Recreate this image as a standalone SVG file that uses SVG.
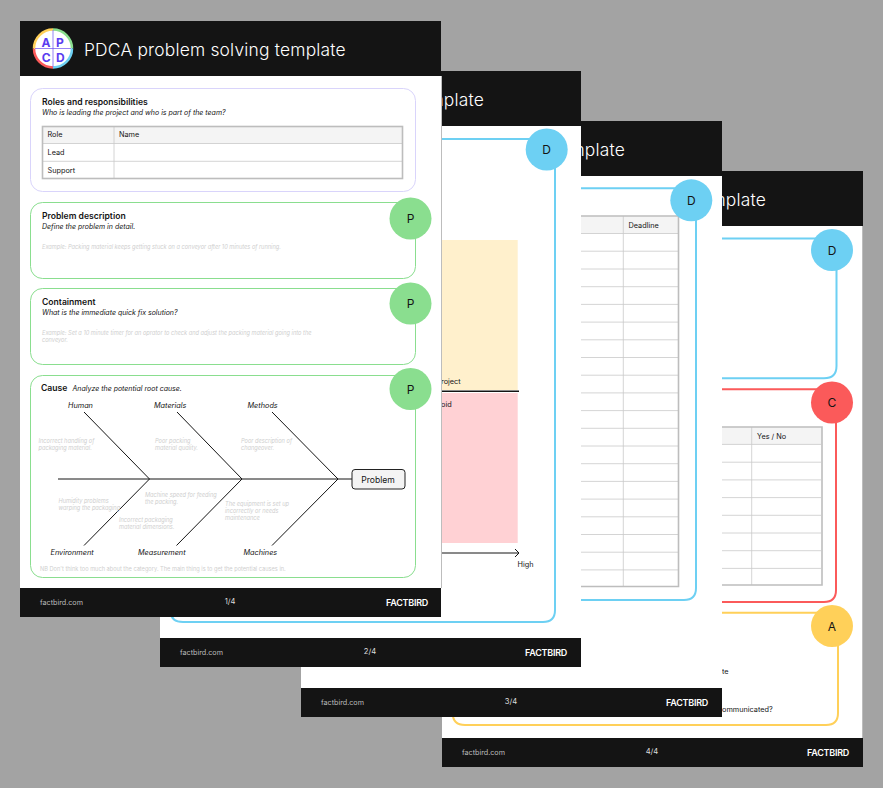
<svg xmlns="http://www.w3.org/2000/svg" width="883" height="788" viewBox="0 0 883 788">
<style>
text{font-family:Inter,"Liberation Sans",sans-serif;fill:#141414}
.page{fill:#fff}
.edge{stroke:#bdbdbd;stroke-width:1;fill:none}
.bar{fill:#141414}
.title{font-size:17.4px;font-weight:300;fill:#fff;letter-spacing:.2px}
.end{text-anchor:end}
.url{font-size:7.2px;fill:#bdbdbd}
.num{font-size:7.6px;fill:#ddd;text-anchor:middle}
.brand{font-size:9px;font-weight:600;fill:#fff;letter-spacing:-.25px}
.frame{fill:none;stroke-width:2}
.blue{stroke:#6dd0f3}.red{stroke:#fb5a5a}.yellow{stroke:#ffd059}.green{stroke:#8ade8f;stroke-width:1}.lilac{stroke:#d9d4fb;stroke-width:1}
.cd{fill:#6dd0f3}.cc{fill:#fb5a5a}.ca{fill:#ffd059}.cp{fill:#8ade8f}
.badge{font-size:12px;text-anchor:middle}
.h{font-size:8.6px;font-weight:600}
.sub{font-size:7px;font-style:italic}
.cell{font-size:7.3px}
.ex{font-size:5.65px;font-style:italic;fill:#cfcfcf}
.cat{font-size:7.3px;font-style:italic}
.bone{stroke:#141414;stroke-width:1;fill:none}
.grid{stroke:#c9c9c9;stroke-width:.8;fill:none}
.out{stroke:#bdbdbd;stroke-width:1.6;fill:none}
.head{fill:#f4f4f4}
.logo-l{font-size:12px;font-weight:700;text-anchor:middle;fill:#5a3df0}
</style>
<rect width="883" height="788" fill="#a3a3a3"/>

<g id="page-4">
<rect class="page" x="442" y="171" width="421" height="596"/>
<path class="edge" d="M862.5 171V767"/>
<rect class="bar" x="442" y="171" width="421" height="55"/>
<text class="title end" x="766" y="205.500">mplate</text>
<g id="p4-connectors">
<path class="frame blue" d="M700 238.500H828M836.500 250V366Q836.500 378.300 824 378.300H700"/>
<path class="frame red" d="M700 389.300H828M836 402V590Q836 602 824 602H700"/>
<path class="frame yellow" d="M700 612.700H828M838 626V713Q838 725 826 725H465Q452.700 725 452.700 713V700"/>
</g>
<g id="p4-table">
<rect class="head" x="722" y="427" width="100" height="17.500"/>
<path class="grid" d="M751.700 427V585M722 444.400H821M722 462.200H821M722 479.900H821M722 497.600H821M722 515.300H821M722 533H821M722 550.700H821M722 568.400H821"/>
<path class="out" d="M722 427H822V585H722"/>
<text class="cell" x="757" y="438.500">Yes / No</text>
</g>
<text class="cell" x="722" y="674">te</text>
<text class="cell" x="722" y="712">ommunicated?</text>
<g id="p4-d"><circle class="cd" cx="832" cy="250" r="21"/><text class="badge" x="832" y="254.500">D</text></g>
<g id="p4-c"><circle class="cc" cx="832" cy="402.500" r="21"/><text class="badge" x="832" y="407">C</text></g>
<g id="p4-a"><circle class="ca" cx="832" cy="626" r="21"/><text class="badge" x="832" y="630.500">A</text></g>
<rect class="bar" x="442" y="738" width="421" height="29"/>
<text class="url" x="462" y="755">factbird.com</text>
<text class="num" x="652" y="754">4/4</text>
<text class="brand" x="807" y="756">FACTBIRD</text>
</g>

<g id="page-3">
<rect class="page" x="301" y="121" width="421" height="596"/>
<rect class="bar" x="301" y="121" width="421" height="55"/>
<text class="title end" x="625" y="155.500">mplate</text>
<g id="p3-connectors">
<path class="frame blue" d="M570 188.300H688M696 200V588Q696 600 684 600H570"/>
</g>
<g id="p3-table">
<rect class="head" x="581" y="216" width="97" height="17.500"/>
<path class="grid" d="M623.300 216V586M581 233.500H678M581 251.200H678M581 269H678M581 286.700H678M581 304.400H678M581 322.100H678M581 339.800H678M581 357.500H678M581 375.200H678M581 392.900H678M581 410.600H678M581 428.300H678M581 446H678M581 463.700H678M581 481.400H678M581 499.100H678M581 516.800H678M581 534.500H678M581 552.200H678M581 569.900H678"/>
<path class="out" d="M581 216H678.500V586.500H581"/>
<text class="cell" x="628.500" y="227.500">Deadline</text>
</g>
<g id="p3-d"><circle class="cd" cx="691.300" cy="200.300" r="21"/><text class="badge" x="691.300" y="204.800">D</text></g>
<rect class="bar" x="301" y="688" width="421" height="29"/>
<text class="url" x="321" y="705">factbird.com</text>
<text class="num" x="511" y="704">3/4</text>
<text class="brand" x="666" y="706">FACTBIRD</text>
</g>

<g id="page-2">
<rect class="page" x="160" y="71" width="421" height="596"/>
<rect class="bar" x="160" y="71" width="421" height="55"/>
<text class="title end" x="484" y="105.500">mplate</text>
<g id="p2-connectors">
<path class="frame blue" d="M430 139H540M555 160V610Q555 622 543 622H183Q171 622 171 612"/>
</g>
<g id="p2-matrix">
<rect x="441" y="240" width="76.700" height="150" fill="#fff0cc"/>
<rect x="441" y="393" width="76.700" height="150" fill="#ffd1d4"/>
<path d="M441 391.300H519" stroke="#141414" stroke-width="1.600" fill="none"/>
<path d="M441 553H519M515 549L519 553L515 557" stroke="#141414" stroke-width="1" fill="none"/>
<text class="cell" x="441" y="384">roject</text>
<text class="cell" x="441" y="406.500">oid</text>
<text class="cell" x="517.500" y="567">High</text>
</g>
<g id="p2-d"><circle class="cd" cx="546.700" cy="149.500" r="21"/><text class="badge" x="546.700" y="154">D</text></g>
<rect class="bar" x="160" y="638" width="421" height="29"/>
<text class="url" x="180" y="655">factbird.com</text>
<text class="num" x="370" y="654">2/4</text>
<text class="brand" x="525" y="656">FACTBIRD</text>
</g>

<g id="page-1">
<rect class="page" x="20" y="21" width="421" height="596"/>
<path class="edge" d="M441.500 76V588"/>
<rect class="bar" x="20" y="21" width="421" height="55"/>
<g id="logo">
<circle cx="53" cy="48.500" r="19" fill="#fff"/>
<path d="M53 29.500A19 19 0 0 1 72 48.500" fill="none" stroke="#8ade8f" stroke-width="2.500"/>
<path d="M72 48.500A19 19 0 0 1 53 67.500" fill="none" stroke="#6dd0f3" stroke-width="2.500"/>
<path d="M53 67.500A19 19 0 0 1 34 48.500" fill="none" stroke="#fb5a5a" stroke-width="2.500"/>
<path d="M34 48.500A19 19 0 0 1 53 29.500" fill="none" stroke="#ffd059" stroke-width="2.500"/>
<path d="M53 30V67M35 48.500H71" stroke="#6b4df0" stroke-width=".7" fill="none"/>
<text class="logo-l" x="46" y="46.500">A</text>
<text class="logo-l" x="60" y="46.500">P</text>
<text class="logo-l" x="46.300" y="61.500">C</text>
<text class="logo-l" x="60.300" y="61.500">D</text>
</g>
<text class="title" x="84" y="55.500">PDCA problem solving template</text>

<g id="roles">
<rect class="frame lilac" x="30.500" y="88.500" width="385" height="103" rx="12"/>
<text class="h" x="42" y="105">Roles and responsibilities</text>
<text class="sub" x="42" y="115">Who is leading the project and who is part of the team?</text>
<rect class="head" x="42.500" y="126.500" width="360" height="17"/>
<path class="grid" d="M114 126.500V178.500M42.500 143.500H402.500M42.500 161.300H402.500"/>
<rect class="out" x="42.500" y="126.500" width="360" height="52" stroke-width="1"/>
<text class="cell" x="47.500" y="137">Role</text>
<text class="cell" x="119" y="137">Name</text>
<text class="cell" x="47.500" y="155">Lead</text>
<text class="cell" x="47.500" y="172.500">Support</text>
</g>

<g id="problem">
<rect class="frame green" x="30.500" y="202.500" width="385" height="76" rx="12"/>
<text class="h" x="42" y="219">Problem description</text>
<text class="sub" x="42" y="229">Define the problem in detail.</text>
<text class="ex" x="42" y="248.500">Example: Packing material keeps getting stuck on a conveyor after 10 minutes of running.</text>
<circle class="cp" cx="410.500" cy="218.500" r="21"/><text class="badge" x="410.500" y="223">P</text>
</g>

<g id="containment">
<rect class="frame green" x="30.500" y="288.500" width="385" height="76" rx="12"/>
<text class="h" x="42" y="305">Containment</text>
<text class="sub" x="42" y="315">What is the immediate quick fix solution?</text>
<text class="ex" x="42" y="334.500">Example: Set a 10 minute timer for an oprator to check and adjust the packing material going into the</text>
<text class="ex" x="42" y="341.500">conveyor.</text>
<circle class="cp" cx="410.500" cy="303.500" r="21"/><text class="badge" x="410.500" y="308">P</text>
</g>

<g id="cause">
<rect class="frame green" x="30.500" y="375.500" width="385" height="202" rx="12"/>
<text class="h" x="41" y="391">Cause</text>
<text class="sub" x="72.500" y="391">Analyze the potential root cause.</text>
<g id="fishbone">
<path class="bone" d="M58 479H352M84 412L149.500 479L84 545.500M177 412L242 479L176.500 545.500M272 412L338 479L272 545.500"/>
</g>
<text class="cat" x="68" y="408">Human</text>
<text class="cat" x="154" y="408">Materials</text>
<text class="cat" x="247.500" y="408">Methods</text>
<text class="cat" x="50.500" y="554.500">Environment</text>
<text class="cat" x="138" y="554.500">Measurement</text>
<text class="cat" x="243.500" y="554.500">Machines</text>
<text class="ex" x="38.500" y="442.500">Incorrect handling of</text>
<text class="ex" x="38.500" y="449.500">packaging material.</text>
<text class="ex" x="155" y="442.500">Poor packing</text>
<text class="ex" x="155" y="449.500">material quality.</text>
<text class="ex" x="241" y="443">Poor description of</text>
<text class="ex" x="241" y="450">changeover.</text>
<text class="ex" x="58.500" y="502.500">Humidity problems</text>
<text class="ex" x="58.500" y="509.500">warping the packaging</text>
<text class="ex" x="145" y="497">Machine speed for feeding</text>
<text class="ex" x="145" y="504">the packing.</text>
<text class="ex" x="119" y="522">Incorrect packaging</text>
<text class="ex" x="119" y="529">material dimensions.</text>
<text class="ex" x="225" y="506">The equipment is set up</text>
<text class="ex" x="225" y="513">incorrectly or needs</text>
<text class="ex" x="225" y="520">maintenance</text>
<text class="ex" x="40" y="571" style="font-style:normal">NB Don't think too much about the category. The main thing is to get the potential causes in.</text>
<g id="problem-box">
<rect x="352" y="469.500" width="53" height="19.500" rx="3" fill="#f4f4f4" stroke="#222" stroke-width="1"/>
<text x="378" y="482.500" text-anchor="middle" font-size="8.600">Problem</text>
</g>
<circle class="cp" cx="410.500" cy="389" r="21"/><text class="badge" x="410.500" y="393.500">P</text>
</g>

<rect class="bar" x="20" y="588" width="421" height="29"/>
<text class="url" x="40" y="605">factbird.com</text>
<text class="num" x="230" y="604">1/4</text>
<text class="brand" x="386" y="606">FACTBIRD</text>
</g>
</svg>
